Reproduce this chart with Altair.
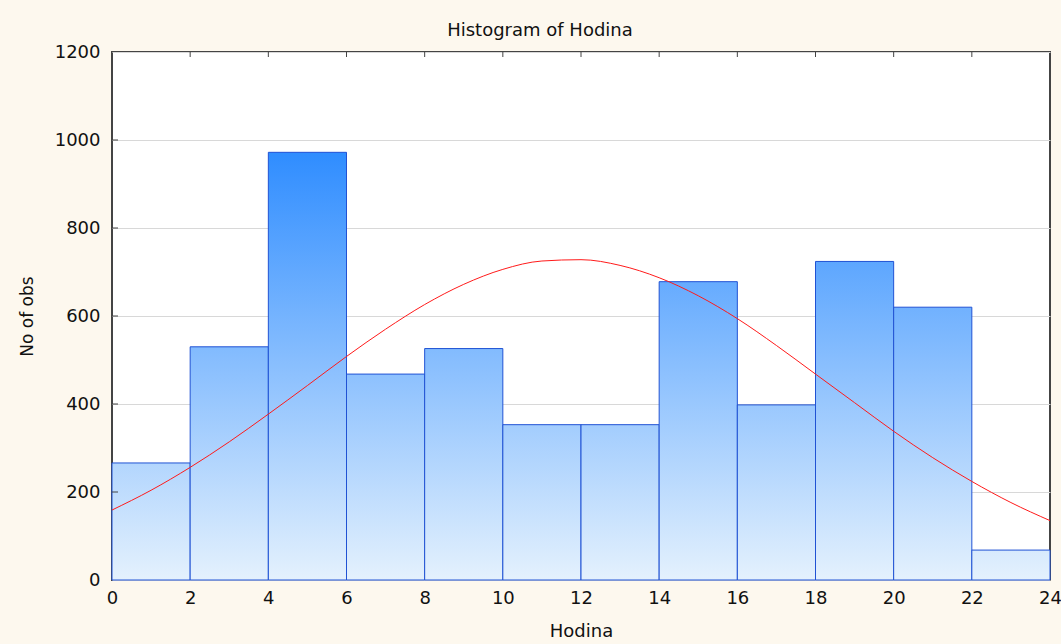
import altair as alt
import pandas as pd

# Histogram of hour of day (2-hour bins) with a fitted normal curve
bin_starts = [0, 2, 4, 6, 8, 10, 12, 14, 16, 18, 20, 22]
bin_width = 2
counts = [266, 530, 972, 468, 526, 353, 353, 678, 398, 724, 620, 68]

# Expected normal counts per bin, sampled at each hour
curve_hours = list(range(0, 25))
curve_counts = [159, 204, 256, 314, 377, 442, 508, 570, 626, 672, 706, 725,
                728, 715, 687, 646, 594, 533, 468, 403, 338, 278, 224, 176, 135]

y_ticks = [0, 200, 400, 600, 800, 1000, 1200]
x_ticks = list(range(0, 25, 2))

FONT = "DejaVu Sans"
BG = "#fdf8ee"
FRAME = "#444444"
EDGE = "#2052d4"
TOP_COLOR = "#2a8aff"     # fill colour at a count of 1000
BASE_COLOR = "#e4f1fd"    # fill colour at a count of 0
COLOR_REF = 1000

bars = pd.DataFrame({
    "start": bin_starts,
    "end": [s + bin_width for s in bin_starts],
    "count": counts,
})
curve = pd.DataFrame({"hour": curve_hours, "expected": curve_counts})
ytick_df = pd.DataFrame({"v": y_ticks[1:-1]})
xtick_df = pd.DataFrame({"v": x_ticks[1:-1]})

xscale = alt.Scale(domain=[0, 24], nice=False, zero=False, padding=0)
yscale = alt.Scale(domain=[0, 1200], nice=False, padding=0)

x_axis = alt.Axis(
    values=x_ticks, format="d", ticks=False, domain=False, grid=False,
    labelFont=FONT, labelFontSize=18, labelColor="#111111", labelPadding=9,
    labelFlush=False, labelOverlap=False,
    title="Hodina", titleFont=FONT, titleFontSize=18, titleFontWeight="normal",
    titleColor="#111111", titleX=469, titleY=51, titleBaseline="middle",
)
y_axis = alt.Axis(
    values=y_ticks, format="d", ticks=False, domain=False, grid=True,
    gridColor="#d8d8d8", gridWidth=1,
    labelFont=FONT, labelFontSize=18, labelColor="#111111", labelPadding=12,
    labelFlush=False, labelOverlap=False,
    title="No of obs", titleFont=FONT, titleFontSize=17, titleFontWeight="normal",
    titleColor="#111111", titleX=-85, titleY=264, titleAlign="center",
    titleBaseline="middle", titleAngle=-90,
)


def X(field):
    return alt.X(field, type="quantitative", scale=xscale, axis=x_axis, title="Hodina")


def Y(field):
    return alt.Y(field, type="quantitative", scale=yscale, axis=y_axis, title="No of obs")


def bar_fill(h):
    # vertical gradient anchored to the value axis, expressed in the bar's own box
    return {
        "gradient": "linear",
        "x1": 0, "x2": 0,
        "y1": 1 - COLOR_REF / h, "y2": 1,
        "stops": [
            {"offset": 0, "color": TOP_COLOR},
            {"offset": 1, "color": BASE_COLOR},
        ],
    }


bar_layers = []
for s, h in zip(bin_starts, counts):
    layer = alt.Chart(bars).transform_filter(
        alt.datum.start == s
    ).mark_bar(
        fill=bar_fill(h), stroke=EDGE, strokeWidth=1, orient="vertical",
    ).encode(
        x=X("start"),
        x2="end:Q",
        y=Y("count"),
        y2=alt.datum(0),
    )
    bar_layers.append(layer)

normal_line = alt.Chart(curve).mark_line(
    color="#ff1a1a", strokeWidth=1, interpolate="monotone",
).encode(
    x=X("hour"),
    y=Y("expected"),
)

# inward tick marks on the left and top edges of the frame
left_ticks = alt.Chart(ytick_df).mark_rule(color=FRAME, strokeWidth=1).encode(
    y=Y("v"),
    x=alt.value(0), x2=alt.value(6),
)
top_ticks = alt.Chart(xtick_df).mark_rule(color=FRAME, strokeWidth=1).encode(
    x=X("v"),
    y=alt.value(0), y2=alt.value(5),
)

chart = alt.layer(
    *bar_layers, normal_line, left_ticks, top_ticks
).properties(
    width=938, height=528,
    title=alt.TitleParams(
        "Histogram of Hodina", font=FONT, fontSize=18, fontWeight="normal",
        color="#111111", anchor="middle", dx=-41, offset=3,
    ),
    background=BG,
    padding={"left": 112, "top": 52, "right": 11, "bottom": 64},
    autosize=alt.AutoSizeParams(type="none"),
).configure_view(
    stroke=FRAME, strokeWidth=2, fill="white",
)

chart.save("out.html", embed_options={"renderer": "svg", "actions": False})
